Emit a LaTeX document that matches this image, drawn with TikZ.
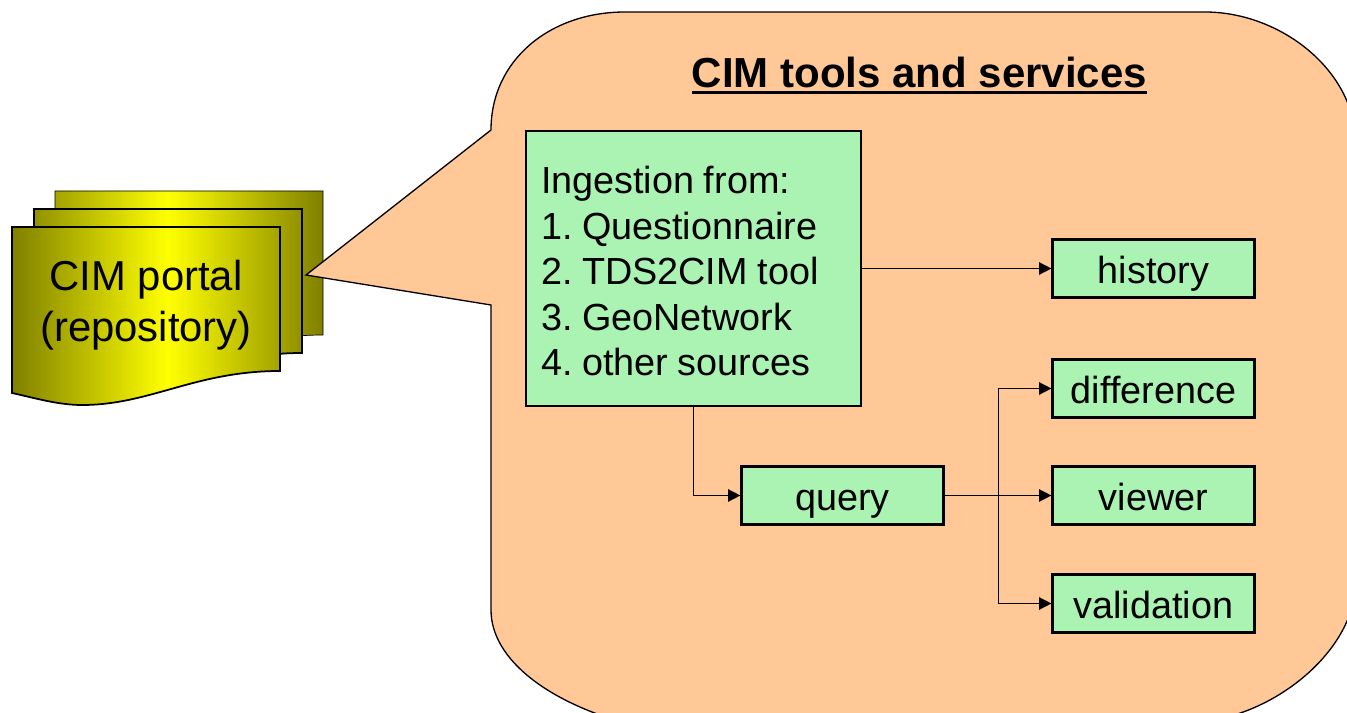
\documentclass[tikz,border=0pt]{standalone}
\usepackage{fontspec}
\setmainfont{Liberation Sans}
\usetikzlibrary{arrows.meta}
\definecolor{bubblefill}{RGB}{255,200,150}
\definecolor{boxfill}{RGB}{171,243,178}
\definecolor{docolive}{RGB}{128,128,0}
\newcommand{\thickuline}[1]{\vtop{\hbox{#1}\kern1.6pt\hrule height 1.8pt}}
\newcommand{\sheetpath}{(12,227) -- (280,227) -- (280,371) .. controls (195,371) and (150,405) .. (82,405) .. controls (58,405) and (35,398) .. (12,393) -- cycle}
\tikzset{
	toolbox/.style={draw, line width=1.25pt, fill=boxfill, inner sep=0pt, font=\fontsize{21.5}{25.9}\selectfont},
	toolsmall/.style={toolbox, minimum width=4.04cm, minimum height=1.16cm, text height=20pt, text depth=2.4pt},
	link/.style={line width=0.85pt, -{Triangle[length=7pt,width=7pt]}},
}
\begin{document}
\frenchspacing
\begin{tikzpicture}[x=0.02cm, y=-0.02cm]
	\path[use as bounding box, clip] (0,0) rectangle (1347,713);

	% three sheets, back to front
	\foreach \dx/\dy/\lw in {43/-36/0.4pt, 22/-18/1pt, 0/0/1pt} {
		\begin{scope}
			\clip[shift={(\dx*0.02cm,\dy*-0.02cm)}] \sheetpath;
			\shade[left color=docolive, right color=docolive, middle color=yellow] (12,191) rectangle (323,405);
		\end{scope}
		\draw[line width=\lw, shift={(\dx*0.02cm,\dy*-0.02cm)}] \sheetpath;
	}
	\node[align=center, inner sep=0pt, font=\fontsize{23.8}{29}\selectfont] (portal) at (146,305) {CIM portal\\(repository)};

	% callout
	\draw[fill=bubblefill, line width=0.75pt] (306,275) -- (491,130) .. controls (491,60) and (550,12) .. (625,12) -- (1205,12) .. controls (1280,12) and (1356,70) .. (1356,145) -- (1356,580) .. controls (1356,655) and (1265,722) .. (1190,722) -- (640,727) .. controls (550,705) and (491,660) .. (491,610) -- (491,305) -- cycle;

	\node[inner sep=0pt, font=\fontsize{23.9}{29}\selectfont\bfseries] (title) at (919.5,75.5) {\thickuline{CIM tools and services}};

	\node[toolbox, minimum width=6.7cm, minimum height=5.5cm, text width=6.1cm, align=left] (ingest) at (693.5,268.5) {\spaceskip=5.5pt\rule{0pt}{18.5pt}Ingestion from:\\1. Questionnaire\\2. TDS2CIM tool\\3. GeoNetwork\\4. other sources};
	\node[toolsmall] (query) at (842.5,495.5) {query};
	\node[toolsmall] (history) at (1153.5,268.5) {history};
	\node[toolsmall] (difference) at (1153.5,388.5) {difference};
	\node[toolsmall] (viewer) at (1153.5,495.5) {viewer};
	\node[toolsmall] (validation) at (1153.5,603.5) {validation};

	\draw[link] (ingest) -- (history);
	\draw[link] (ingest) |- (query);
	\draw[link] (query) -- (viewer);
	\draw[link] (query.east) -- ++(54,0) |- (difference);
	\draw[link] (query.east) -- ++(54,0) |- (validation);
\end{tikzpicture}
\end{document}
